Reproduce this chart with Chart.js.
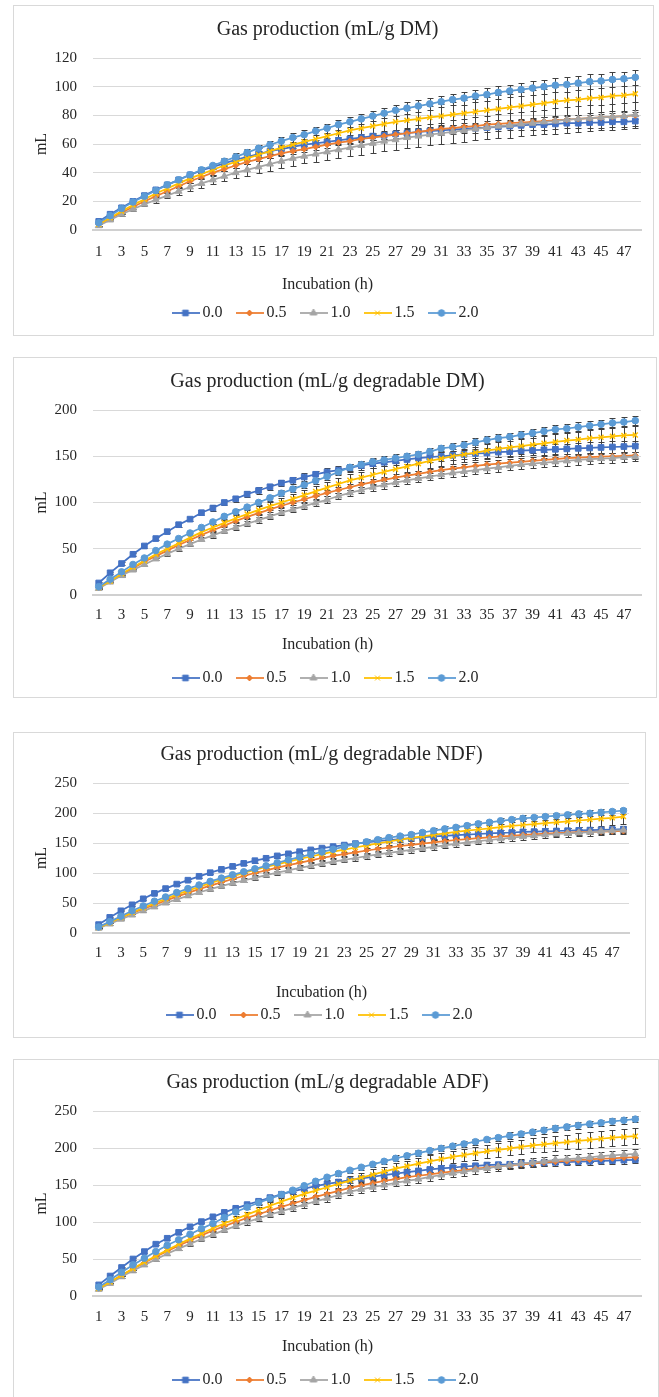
<!DOCTYPE html>
<html>
<head>
<meta charset="utf-8">
<script src="https://cdn.jsdelivr.net/npm/chart.js@4.4.0/dist/chart.umd.min.js"></script>
<style>
  body { margin: 0; background: #fff; width: 659px; height: 1397px; position: relative; overflow: hidden; }
  .box { position: absolute; border: 1px solid #d9d9d9; box-sizing: border-box; background: #fff; }
  .box canvas { position: absolute; left: 0; top: 0; }
</style>
</head>
<body>
<div class="box" style="left:13px;top:5px;width:641px;height:331px"><canvas id="c1" width="639" height="329"></canvas></div>
<div class="box" style="left:13px;top:357px;width:644px;height:341px"><canvas id="c2" width="642" height="339"></canvas></div>
<div class="box" style="left:13px;top:732px;width:633px;height:306px"><canvas id="c3" width="631" height="304"></canvas></div>
<div class="box" style="left:13px;top:1059px;width:646px;height:340px"><canvas id="c4" width="644" height="338"></canvas></div>

<script>
// incubation hours (x categories)
const hours = ['1','2','3','4','5','6','7','8','9','10','11','12','13','14','15','16','17','18','19','20','21','22','23','24',
  '25','26','27','28','29','30','31','32','33','34','35','36','37','38','39','40','41','42','43','44','45','46','47','48'];
const levels = ['0.0', '0.5', '1.0', '1.5', '2.0'];

// Gas production (mL/g DM)
const dm00 = [6,11,15.5,20,24,28,31.5,35,38.5,41.5,44,46.5,49,51,53,55,56.5,58,59.5,60.5,61.5,62.5,63.5,64.5,65.5,66,67,67.5,68.5,69,69.5,70,70.5,71,71.5,72,72.5,73,73.5,73.5,74,74.5,74.5,75,75,75.5,75.5,76];
const dm05 = [4,8,12,16,20,23.5,27,30.5,34,37,40,42.5,45,47.5,49.5,51.5,53.5,55,56.5,58,59.5,61,62,63.5,64.5,65.5,66.5,67.5,68.5,69.5,70.5,71,72,72.5,73.5,74,74.5,75,75.5,76,76.5,77,77.5,78,78.5,79,79.5,80];
const dm10 = [3,7,11,14.5,18,21,24,27,30,32.5,35,37.5,40,42,44,46,48,50,51.5,53,54.5,56,57.5,59,60.5,62,63,64.5,65.5,66.5,67.5,68.5,69.5,70.5,71.5,72.5,73,74,74.5,75.5,76,77,77.5,78,78.5,79,79.5,80.5];
const dm15 = [4,8.5,13,17.5,21.5,25.5,29,32.5,36,39,42,45,47.5,50,52.5,55,57.5,59.5,61.5,63.5,65.5,67.5,69.5,71,72.5,74,75.5,76.5,77.5,78.5,79.5,80.5,81.5,82.5,83.5,84.5,85.5,86.5,87.5,88.5,89.5,90.5,91,92,92.5,93.5,94,95];
const dm20 = [5,10,15,19.5,23.5,27.5,31.5,35,38.5,42,45,48,51,54,57,59.5,62,64.5,66.5,69,71,73.5,75.5,77.5,79.5,81.5,83.5,85,86.5,88,89.5,91,92,93.5,94.5,96,97,98,99,100,101,101.5,102.5,103.5,104,105,105.5,106.5];
const dmE00 = [1,1,1,1,1,1,1.5,1.5,1.5,1.5,1.5,2,2,2,2,2,2,2,2,2.5,2.5,2.5,2.5,2.5,2.5,2.5,3,3,3,3,3,3,3,3,3,3,3,3.5,3.5,3.5,3.5,3.5,3.5,3.5,3.5,3.5,3.5,3.5];
const dmE05 = [1,1,1,1,1,1,1,1,1,1.5,1.5,1.5,1.5,1.5,1.5,1.5,2,2,2,2,2,2,2,2,2,2,2,2,2,2,2.5,2.5,2.5,2.5,2.5,2.5,2.5,2.5,2.5,2.5,2.5,2.5,2.5,2.5,2.5,2.5,2.5,2.5];
const dmE10 = [1,1,1,1.5,1.5,2,2,2.5,2.5,3,3,3.5,3.5,4,4,4.5,4.5,5,5,5.5,5.5,6,6,6.5,6.5,7,7,7,7.5,7.5,7.5,8,8,8,8,8.5,8.5,8.5,8.5,8.5,9,9,9,9,9,9,9,9];
const dmE15 = [1,1,1.5,1.5,2,2,2.5,2.5,3,3,3.5,3.5,4,4,4.5,4.5,5,5,5.5,5.5,6,6,6.5,6.5,7,7,7.5,7.5,8,8,8.5,8.5,9,9,9,9.5,9.5,9.5,10,10,10,10,10.5,10.5,10.5,10.5,11,11];
const dmE20 = [1,1,1,1,1.5,1.5,1.5,1.5,2,2,2,2,2.5,2.5,2.5,2.5,3,3,3,3,3,3.5,3.5,3.5,3.5,3.5,4,4,4,4,4,4,4.5,4.5,4.5,4.5,4.5,4.5,5,5,5,5,5,5,5,5,5,5];

// Gas production (mL/g degradable DM)
const ddm00 = [13,24,34,44,53,61,68.5,76,82,89,94,100,104,109,113,117,121,124,127.5,130.5,133,135,137.5,140,142,143.5,145,146.5,148,149,150,151,152,153,153.5,154.5,155,156,156.5,157,157.5,158,158.5,159,159.5,160,160.5,161];
const ddm05 = [8,15,22,29,36,42,48,54,59.5,65,70,75,80,84.5,88.5,92.5,96.5,100,103.5,107,110.5,113.5,116.5,119.5,122,124.5,127,129,131,133,135,136.5,138,139.5,141,142,143,144,145,146,147,148,148.5,149,149.5,150,150.5,151];
const ddm10 = [7,14,21,27,33,39,44.5,50,55,60,64.5,69,73,77,81,85,89,92.5,96,99.5,103,107,110.5,113.5,116.5,119,121.5,124,126,128,130,132,133.5,135,136.5,138,139.5,141,142,143,144,145,146,147,147.5,148,149,149.5];
const ddm15 = [8,15,23,30,37,44,50,56,62,68,73,78,83,87.5,92,96,100,104,108,112,116,120,124,127,130,133,136,139,142,145,147.5,150,152,154,156,158,159.5,161,162.5,164,165.5,167,168,169.5,170.5,171.5,172.5,173];
const ddm20 = [9,17,25,33,40,48,55,61,67,73,79,85,90,95,100,105,110,114.5,119,123.5,128,133,138,141,144,146,148,150,152,155,158.5,160,162,165,167.5,169.5,171,173,175,177,179,180,181.5,183,184.5,186,187,188.5];
const ddmE00 = [1,1,1.5,1.5,2,2,2,2.5,2.5,2.5,3,3,3,3,3.5,3.5,3.5,3.5,4,4,4,4,4,4.5,4.5,4.5,4.5,4.5,5,5,5,5,5,5,5,5.5,5.5,5.5,5.5,5.5,5.5,5.5,6,6,6,6,6,6];
const ddmE05 = [1,1,1,1.5,1.5,1.5,1.5,2,2,2,2,2,2.5,2.5,2.5,2.5,2.5,3,3,3,3,3,3,3,3.5,3.5,3.5,3.5,3.5,3.5,3.5,3.5,4,4,4,4,4,4,4,4,4,4,4,4,4,4,4,4];
const ddmE10 = [1,1,1,1.5,1.5,1.5,2,2,2,2,2.5,2.5,2.5,2.5,3,3,3,3,3,3.5,3.5,3.5,3.5,3.5,4,4,4,4,4,4,4,4.5,4.5,4.5,4.5,4.5,4.5,4.5,4.5,5,5,5,5,5,5,5,5,5];
const ddmE15 = [1,1,1.5,1.5,2,2,2.5,2.5,3,3,3.5,3.5,4,4,4.5,4.5,5,5,5.5,5.5,6,6,6.5,6.5,7,7,7,7.5,7.5,7.5,8,8,8,8.5,8.5,8.5,9,9,9,9,9.5,9.5,9.5,9.5,10,10,10,10];
const ddmE20 = [1,1,1,1.5,1.5,1.5,2,2,2,2,2.5,2.5,2.5,2.5,3,3,3,3,3,3.5,3.5,3.5,3.5,3.5,4,4,4,4,4,4,4,4.5,4.5,4.5,4.5,4.5,4.5,4.5,5,5,5,5,5,5,5,5,5,5];

// Gas production (mL/g degradable NDF)
const ndf00 = [14,26,37,47,57,66,74,81.5,88,94.5,100.5,106,111,116,120.5,124.5,128.5,132,135.5,138.5,141.5,144,146.5,149,151,153,155,156.5,158,159.5,161,162,163,164,165,166,167,167.5,168.5,169,169.5,170,170.5,171,171.5,172,172.5,173];
const ndf05 = [9,17,25,33,40,47,54,60.5,67,73,79,84.5,90,95,100,104.5,109,113,117,121,125,128.5,131.5,134.5,137.5,140,142.5,145,147,149,151,153,155,156.5,158,159.5,161,162,163.5,164.5,165.5,166.5,167.5,168,168.5,169,169.5,170];
const ndf10 = [8,15,23,30,37,43.5,50,56,62,67.5,73,78,83,87.5,92,96.5,100.5,104.5,108.5,112,115.5,119,122,125,128,131,133.5,136,138.5,141,143.5,146,148.5,151,153,155,157,159,160.5,162,163.5,165,166,167,168,169.5,170.5,171.5];
const ndf15 = [9,17,26,34,42,49.5,57,64,70.5,77,83,89,94.5,100,105,110,114.5,119,123.5,127.5,131.5,135.5,139,142.5,146,149.5,152.5,155.5,158.5,161,163.5,166,168.5,170.5,172.5,174.5,176.5,178.5,180,181.5,183,184.5,186,187.5,189,190.5,192,194];
const ndf20 = [10,19,28,37,45,53,60,67.5,74,80,86,91.5,97,102,107,112,117,122,126.5,131,135,139.5,144,148,152,155.5,159,161.5,164,167.5,170.5,173.5,176,179,182,184.5,187,189,191,192.5,194,195.5,197,198.5,199.5,201,202.5,204];
const ndfE00 = [1,1,1,1.5,1.5,1.5,2,2,2,2,2.5,2.5,2.5,2.5,3,3,3,3,3,3.5,3.5,3.5,3.5,3.5,4,4,4,4,4,4,4,4.5,4.5,4.5,4.5,4.5,4.5,4.5,4.5,5,5,5,5,5,5,5,5,5];
const ndfE05 = [1,1,1,1.5,1.5,1.5,1.5,2,2,2,2,2,2.5,2.5,2.5,2.5,2.5,3,3,3,3,3,3,3,3.5,3.5,3.5,3.5,3.5,3.5,3.5,3.5,4,4,4,4,4,4,4,4,4,4,4,4,4,4,4,4];
const ndfE10 = [1,1,1.5,1.5,2,2,2,2.5,2.5,2.5,3,3,3,3,3.5,3.5,3.5,3.5,4,4,4,4,4,4.5,4.5,4.5,4.5,4.5,5,5,5,5,5,5,5,5.5,5.5,5.5,5.5,5.5,5.5,5.5,6,6,6,6,6,6];
const ndfE15 = [1,1,1.5,1.5,2,2,2.5,2.5,3,3,3.5,3.5,4,4,4.5,4.5,5,5,5.5,5.5,6,6,6.5,6.5,7,7,7.5,7.5,8,8,8.5,8.5,9,9,9.5,9.5,10,10,10.5,10.5,11,11,11,11.5,11.5,11.5,12,12];
const ndfE20 = [1,1,1,1.5,1.5,1.5,2,2,2,2,2.5,2.5,2.5,2.5,3,3,3,3,3,3.5,3.5,3.5,3.5,3.5,4,4,4,4,4,4,4,4.5,4.5,4.5,4.5,4.5,4.5,4.5,5,5,5,5,5,5,5,5,5,5];

// Gas production (mL/g degradable ADF)
const adf00 = [15,27,38.5,50,60,70,78,86,93.5,100.5,107,113,118.5,123.5,128,133,137.5,141.5,145,148.5,151.5,154,156.5,159,161,163.5,165.5,167.5,169,171,172.5,173.5,175,176,177,177.5,178,179,179.5,180,180.5,181,181.5,182,182.5,183,183.5,184];
const adf05 = [10,19,28,36.5,45,53,60.5,68,75,82,88.5,94.5,100,105.5,110.5,115.5,120.5,125,129.5,134,138,142,146,149.5,152.5,155.5,158,160.5,162.5,164.5,166.5,168.5,170,172,173.5,175,176.5,178,179,180.5,181.5,182.5,183.5,184.5,185.5,186,187,187.5];
const adf10 = [9,17,26,34,42,49.5,57,64,70.5,77,83,89,94.5,100,105,110,114.5,119,123.5,128,132,136.5,141,144,147,150,153,155.5,158,161,163.5,166,168,170.5,172.5,175,177,179,180.5,182,184,185,186,187.5,189,190,191,192];
const adf15 = [10,19,28,37,46,54,62,70,77.5,84.5,91.5,98,104,110,116,122,127.5,133,138,142.5,147,151.5,156,160,164,168,172,175.5,179,182,185,188,190.5,193,195.5,197.5,199.5,201.5,203.5,205,206.5,208,209.5,211,212.5,214,215,216];
const adf20 = [12,22,32,42,51,60,68.5,76,83.5,91,98,106,113.5,120,126,131.5,137,143,149,155,160.5,165.5,170,174,178,182,186,189.5,193,196.5,199.5,202.5,205.5,208.5,211.5,214,216.5,219,221.5,224,226.5,228.5,230.5,232.5,234,236,237.5,239];
const adfE00 = [1,1,1,1.5,1.5,1.5,2,2,2,2,2.5,2.5,2.5,2.5,3,3,3,3,3,3,3.5,3.5,3.5,3.5,3.5,3.5,4,4,4,4,4,4,4,4,4,4,4.5,4.5,4.5,4.5,4.5,4.5,4.5,4.5,4.5,4.5,4.5,4.5];
const adfE05 = [1,1,1,1,1.5,1.5,1.5,1.5,2,2,2,2,2,2.5,2.5,2.5,2.5,2.5,2.5,3,3,3,3,3,3,3,3,3,3,3.5,3.5,3.5,3.5,3.5,3.5,3.5,3.5,3.5,3.5,3.5,3.5,3.5,3.5,3.5,3.5,3.5,3.5,3.5];
const adfE10 = [1,1,1.5,1.5,2,2,2,2.5,2.5,2.5,3,3,3,3.5,3.5,3.5,4,4,4,4,4.5,4.5,4.5,4.5,5,5,5,5,5,5,5.5,5.5,5.5,5.5,5.5,5.5,5.5,6,6,6,6,6,6,6,6,6,6,6];
const adfE15 = [1,1,1.5,1.5,2,2,2.5,2.5,3,3,3.5,3.5,4,4,4.5,4.5,5,5,5.5,5.5,6,6,6.5,6.5,7,7,7.5,7.5,8,8,8,8.5,8.5,9,9,9,9.5,9.5,9.5,10,10,10,10.5,10.5,10.5,11,11,11];
const adfE20 = [1,1,1,1.5,1.5,1.5,2,2,2,2,2.5,2.5,2.5,2.5,3,3,3,3,3,3,3.5,3.5,3.5,3.5,3.5,3.5,4,4,4,4,4,4,4,4,4,4,4.5,4.5,4.5,4.5,4.5,4.5,4.5,4.5,4.5,4.5,4.5,4.5];

const colors = ['#4472C4', '#ED7D31', '#A5A5A5', '#FFC000', '#5B9BD5'];
const markers = ['rect', 'rectRot', 'triangle', 'crossRot', 'circle'];
const radii = [4, 3, 4, 3.5, 3.3];

Chart.defaults.font.family = '"Liberation Serif", "Times New Roman", serif';
Chart.defaults.color = '#333';

// vertical error bars with caps, drawn under the lines
const errorBars = {
  id: 'errorBars',
  beforeDatasetsDraw(chart) {
    const ctx = chart.ctx, y = chart.scales.y;
    ctx.save();
    ctx.strokeStyle = '#404040';
    ctx.lineWidth = 1;
    chart.data.datasets.forEach((ds, di) => {
      const meta = chart.getDatasetMeta(di);
      meta.data.forEach((pt, i) => {
        const v = ds.data[i], e = ds.errors[i];
        const x = Math.round(pt.x) + 0.5;
        const y1 = Math.round(y.getPixelForValue(v + e)) + 0.5;
        const y2 = Math.round(y.getPixelForValue(v - e)) + 0.5;
        ctx.beginPath();
        ctx.moveTo(x, y1); ctx.lineTo(x, y2);
        ctx.moveTo(x - 3, y1); ctx.lineTo(x + 3, y1);
        ctx.moveTo(x - 3, y2); ctx.lineTo(x + 3, y2);
        ctx.stroke();
      });
    });
    ctx.restore();
  }
};

// little line+marker picture for the legend
function legendIcon(i) {
  const c = document.createElement('canvas');
  c.width = 28; c.height = 10;
  const g = c.getContext('2d');
  g.strokeStyle = colors[i];
  g.fillStyle = colors[i];
  g.lineWidth = 1.75;
  g.beginPath(); g.moveTo(0, 5); g.lineTo(28, 5); g.stroke();
  g.lineWidth = 1;
  Chart.helpers.drawPoint(g, { pointStyle: markers[i], radius: radii[i], borderWidth: markers[i] === 'crossRot' ? 1.5 : 1, rotation: 0 }, 14, 5);
  return c;
}

function build(id, title, series, errs, yMax, yStep, L) {
  const canvas = document.getElementById(id);
  const H = canvas.height;
  const t = 8, p = 18, lh = 16 * 1.2;
  const b = (L.legendY - L.xTitleY) - p - lh;
  const legendTop = L.xTitleY - t - 8;
  const padBottom = H - (L.legendY + 18);
  const xHeight = legendTop - L.plotBottom;

  const icons = levels.map((_, i) => legendIcon(i));
  const datasets = levels.map((lab, i) => ({
    label: lab,
    data: series[i],
    errors: errs[i],
    borderColor: colors[i],
    backgroundColor: colors[i],
    borderWidth: 1.75,
    pointStyle: markers[i],
    pointRadius: radii[i],
    pointBorderWidth: markers[i] === 'crossRot' ? 1.5 : 1,
    pointHoverRadius: radii[i],
    tension: 0,
    order: 4 - i
  }));

  new Chart(canvas, {
    type: 'line',
    data: { labels: hours, datasets: datasets },
    plugins: [errorBars],
    options: {
      responsive: false,
      animation: false,
      layout: { padding: { left: 0, right: L.rightPad, top: 0, bottom: padBottom } },
      plugins: {
        title: {
          display: true,
          text: title,
          color: '#262626',
          font: { size: 20, weight: 'normal' },
          padding: { top: L.titleY - 12, bottom: L.plotTop - L.titleY - 12 }
        },
        legend: {
          position: 'bottom',
          title: {
            display: true,
            text: 'Incubation (h)',
            color: '#262626',
            font: { size: 16 },
            padding: { top: t, bottom: b }
          },
          labels: {
            usePointStyle: true,
            pointStyleWidth: 18,
            padding: p,
            color: '#262626',
            font: { size: 16 },
            generateLabels(chart) {
              return chart.data.datasets.map((ds, i) => ({
                text: ds.label,
                datasetIndex: i,
                pointStyle: icons[i],
                fillStyle: colors[i],
                strokeStyle: colors[i],
                lineWidth: 0,
                hidden: false
              }));
            }
          }
        },
        tooltip: { enabled: false }
      },
      scales: {
        x: {
          type: 'category',
          offset: true,
          grid: { display: false, drawTicks: false },
          border: { display: true, color: '#d0d0d0', width: 2 },
          ticks: {
            autoSkip: false,
            maxRotation: 0,
            padding: L.tickY - L.plotBottom - 9,
            color: '#262626',
            font: { size: 15 },
            callback: (v, i) => (i % 2 === 0 ? hours[i] : '')
          },
          afterFit: s => { s.height = xHeight; }
        },
        y: {
          min: 0,
          max: yMax,
          grid: { color: '#d9d9d9', lineWidth: 1, drawTicks: false },
          border: { display: false },
          ticks: { stepSize: yStep, padding: 16, color: '#262626', font: { size: 15 } },
          title: { display: true, text: 'mL', color: '#262626', font: { size: 16 }, padding: { top: 18.4, bottom: 0 } },
          afterFit: s => { s.width = 79; }
        }
      }
    }
  });
}

build('c1', 'Gas production (mL/g DM)',
  [dm00, dm05, dm10, dm15, dm20], [dmE00, dmE05, dmE10, dmE15, dmE20], 120, 20,
  { rightPad: 12, plotTop: 52, plotBottom: 224, titleY: 24, tickY: 246, xTitleY: 279, legendY: 307 });
build('c2', 'Gas production (mL/g degradable DM)',
  [ddm00, ddm05, ddm10, ddm15, ddm20], [ddmE00, ddmE05, ddmE10, ddmE15, ddmE20], 200, 50,
  { rightPad: 15, plotTop: 52, plotBottom: 237, titleY: 24, tickY: 257, xTitleY: 287, legendY: 320 });
build('c3', 'Gas production (mL/g degradable NDF)',
  [ndf00, ndf05, ndf10, ndf15, ndf20], [ndfE00, ndfE05, ndfE10, ndfE15, ndfE20], 250, 50,
  { rightPad: 16, plotTop: 50, plotBottom: 200, titleY: 22, tickY: 220, xTitleY: 260, legendY: 282 });
build('c4', 'Gas production (mL/g degradable ADF)',
  [adf00, adf05, adf10, adf15, adf20], [adfE00, adfE05, adfE10, adfE15, adfE20], 250, 50,
  { rightPad: 17, plotTop: 51, plotBottom: 236, titleY: 23, tickY: 257, xTitleY: 287, legendY: 320 });
</script>
</body>
</html>
